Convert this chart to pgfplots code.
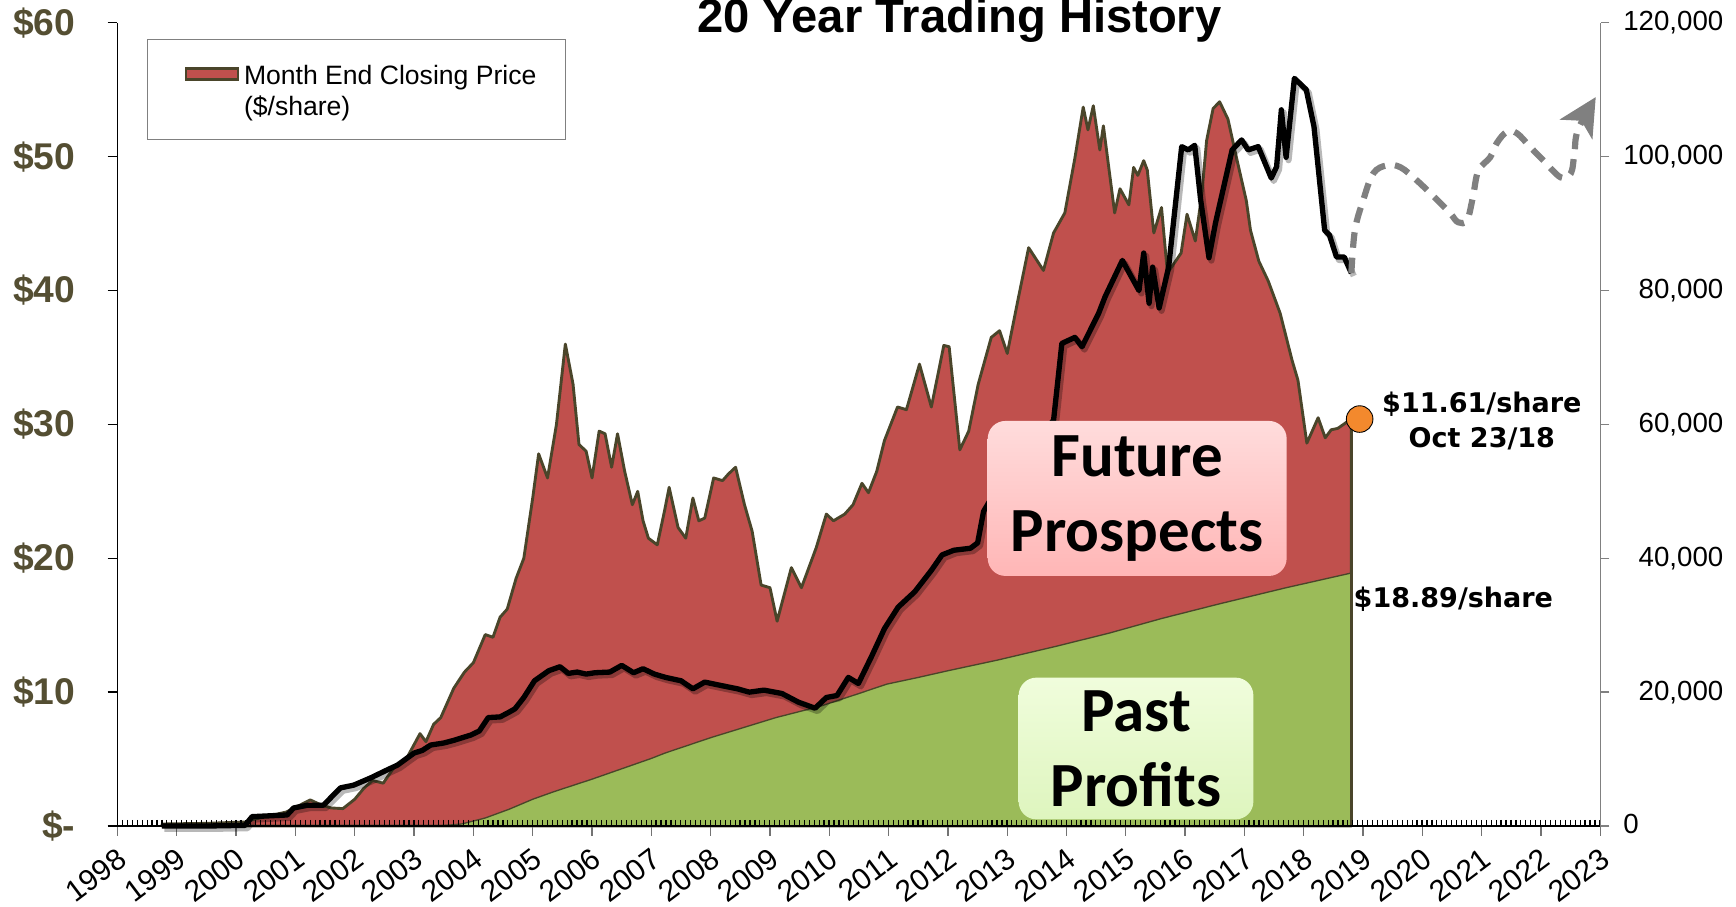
\documentclass[border=0pt]{standalone}
\usepackage{fontspec}
\setmainfont{Liberation Sans}
\newfontfamily\calibri{Carlito}
\newfontfamily\verd{DejaVu Sans}
\usepackage{pgfplots}
\pgfplotsset{compat=1.18}
\usetikzlibrary{arrows.meta}

\definecolor{pricered}{RGB}{192,80,77}
\definecolor{olive}{RGB}{74,69,42}
\definecolor{profitgreen}{RGB}{155,187,89}
\definecolor{ylab}{RGB}{84,78,50}
\definecolor{dotorange}{RGB}{243,137,45}

\begin{document}
\begin{tikzpicture}
\begin{axis}[
  name=main,
  scale only axis, width=669.75pt, height=362.75pt,
  xmin=1998, xmax=2023, ymin=0, ymax=60,
  axis x line*=bottom, axis y line*=left,
  axis line style={black, line width=0.6pt},
  axis on top,
  clip=false,
  xtick={1998,1999,...,2023},
  xticklabels={1998,1999,2000,2001,2002,2003,2004,2005,2006,2007,2008,2009,2010,2011,2012,2013,2014,2015,2016,2017,2018,2019,2020,2021,2022,2023},
  minor xtick={1998.0833333,1998.1666667,...,2022.99},
  ytick={0,10,...,60},
  yticklabels={\$-,\$10,\$20,\$30,\$40,\$50,\$60},
  tick align=outside,
  major tick length=4.5pt,
  minor tick length=-2.8pt,
  major x tick style={black!55, line width=0.6pt},
  minor x tick style={black, line width=0.55pt},
  ytick style={black, line width=0.6pt},
  xticklabel style={font=\fontsize{13.5}{16}\selectfont, anchor=north east, rotate=37},
  yticklabel style={font=\fontsize{16.8}{20}\selectfont\bfseries, text=ylab, xshift=-11pt},
]
% month end closing price ($/share)
\addplot[fill=pricered, draw=olive, line width=1.3pt, line join=round]
coordinates {(1998.75,0.15)(1999.5,0.2)(2000.15,0.3)(2000.3,0.5)(2000.6,0.8)(2000.85,1.05)(2001.05,1.5)(2001.25,1.95)(2001.42,1.6)(2001.6,1.35)(2001.8,1.3)(2002.0,2.0)(2002.15,2.8)(2002.3,3.4)(2002.48,3.2)(2002.65,4.3)(2002.88,5.1)(2003.1,6.9)(2003.2,6.3)(2003.33,7.6)(2003.45,8.1)(2003.67,10.3)(2003.85,11.5)(2004.0,12.2)(2004.2,14.3)(2004.33,14.1)(2004.45,15.6)(2004.57,16.2)(2004.72,18.5)(2004.85,20.0)(2005.0,24.5)(2005.1,27.8)(2005.25,26.0)(2005.4,30.0)(2005.55,36.0)(2005.68,33.0)(2005.78,28.5)(2005.9,28.0)(2006.0,26.0)(2006.12,29.5)(2006.22,29.3)(2006.33,26.8)(2006.43,29.3)(2006.55,26.5)(2006.68,24.0)(2006.77,25.0)(2006.86,22.8)(2006.95,21.5)(2007.1,21.0)(2007.22,23.5)(2007.3,25.3)(2007.45,22.3)(2007.58,21.5)(2007.7,24.5)(2007.8,22.8)(2007.9,23.0)(2008.05,26.0)(2008.2,25.8)(2008.3,26.3)(2008.42,26.8)(2008.5,25.3)(2008.57,24.0)(2008.7,22.0)(2008.85,18.0)(2009.0,17.8)(2009.12,15.3)(2009.36,19.3)(2009.53,17.8)(2009.78,20.8)(2009.95,23.3)(2010.07,22.8)(2010.26,23.3)(2010.4,24.0)(2010.55,25.6)(2010.66,24.9)(2010.8,26.5)(2010.93,28.8)(2011.15,31.3)(2011.3,31.1)(2011.52,34.5)(2011.72,31.3)(2011.93,35.9)(2012.02,35.8)(2012.2,28.1)(2012.35,29.5)(2012.51,33.0)(2012.73,36.5)(2012.87,37.0)(2013.0,35.3)(2013.18,39.3)(2013.36,43.2)(2013.61,41.5)(2013.78,44.3)(2013.97,45.8)(2014.14,49.9)(2014.28,53.7)(2014.36,52.0)(2014.45,53.8)(2014.56,50.5)(2014.62,52.3)(2014.81,45.8)(2014.9,47.6)(2015.05,46.4)(2015.13,49.2)(2015.2,48.6)(2015.3,49.7)(2015.36,49.0)(2015.47,44.3)(2015.6,46.2)(2015.7,41.3)(2015.93,42.8)(2016.03,45.7)(2016.17,43.7)(2016.28,47.2)(2016.36,51.2)(2016.47,53.6)(2016.58,54.1)(2016.72,52.8)(2016.86,50.0)(2017.03,46.7)(2017.1,44.5)(2017.24,42.2)(2017.4,40.7)(2017.6,38.3)(2017.8,34.8)(2017.9,33.3)(2018.05,28.6)(2018.24,30.5)(2018.36,29.0)(2018.46,29.6)(2018.57,29.7)(2018.7,30.1)(2018.8,30.5)} \closedcycle;
% past profits, cumulative ($/share)
\addplot[fill=profitgreen, draw=olive, line width=0.6pt]
coordinates {(2003.4,0)(2003.8,0.15)(2004.2,0.6)(2004.6,1.25)(2005.0,2.0)(2005.36,2.57)(2006.0,3.5)(2007.0,5.05)(2007.23,5.45)(2008.0,6.6)(2009.1,8.1)(2009.85,8.95)(2010.5,9.9)(2010.97,10.6)(2011.5,11.1)(2012.0,11.6)(2012.84,12.4)(2013.8,13.4)(2014.71,14.4)(2015.6,15.5)(2016.58,16.6)(2017.7,17.8)(2018.79,18.89)} \closedcycle;
\addplot[only marks, mark=*, mark size=6pt, mark options={fill=dotorange, draw=none}]
coordinates {(2018.94,30.4)};
% legend
\draw[black!50, line width=0.6pt, fill=white] (rel axis cs:0.02008,0.9788) rectangle (rel axis cs:0.3023,0.8547);
\draw[fill=pricered, draw=olive, line width=1.3pt] (rel axis cs:0.04622,0.9429) rectangle (rel axis cs:0.08131,0.9291);
\node[anchor=base west, inner sep=0pt, font=\fontsize{12}{14}\selectfont] at (rel axis cs:0.08503,0.9237)
  {\begin{tabular}[t]{@{}l@{}}Month End Closing Price\\(\$/share)\end{tabular}};
\node[anchor=base, font=\fontsize{21.3}{25}\selectfont\bfseries] at (rel axis cs:0.5677,1) [yshift=-4.2pt] {20 Year Trading History};
\end{axis}

\begin{axis}[
  scale only axis, width=669.75pt, height=362.75pt,
  xmin=1998, xmax=2023, ymin=0, ymax=120000,
  axis x line=none, axis y line*=right,
  axis line style={black!50, line width=0.8pt},
  clip=false,
  ytick={0,20000,...,120000},
  yticklabels={0\phantom{00,000},{20,000},{40,000},{60,000},{80,000},{100,000},{120,000}},
  tick align=outside, major tick length=4pt,
  ytick style={black!50, line width=0.6pt},
  yticklabel style={font=\fontsize{12.5}{15}\selectfont, anchor=east, xshift=55pt},
]
\addplot[black, line width=2.4pt, line join=round,
  preaction={draw=black, draw opacity=0.28, line width=2.8pt, transform canvas={shift={(1.1pt,-1.3pt)}}}]
coordinates {(1998.75,0)(1999.5,0)(2000.15,100)(2000.27,1400)(2000.86,1650)(2000.97,2700)(2001.2,3100)(2001.47,3100)(2001.76,5700)(2001.98,6100)(2002.27,7200)(2002.55,8400)(2002.72,9100)(2003.0,10900)(2003.14,11300)(2003.28,12100)(2003.5,12400)(2003.67,12800)(2003.96,13600)(2004.1,14200)(2004.25,16200)(2004.45,16300)(2004.6,17000)(2004.7,17500)(2004.85,19200)(2005.03,21700)(2005.27,23200)(2005.46,23800)(2005.6,22800)(2005.75,23000)(2005.9,22700)(2006.05,22900)(2006.3,23000)(2006.5,24000)(2006.7,22900)(2006.86,23500)(2007.05,22700)(2007.24,22200)(2007.5,21700)(2007.7,20500)(2007.9,21500)(2008.17,21000)(2008.45,20500)(2008.65,20000)(2008.9,20300)(2009.2,19800)(2009.48,18500)(2009.76,17600)(2009.95,19200)(2010.13,19500)(2010.32,22200)(2010.49,21300)(2010.71,25300)(2010.93,29500)(2011.16,32700)(2011.44,35000)(2011.72,38200)(2011.9,40500)(2012.1,41200)(2012.38,41500)(2012.5,42300)(2012.6,47000)(2013.0,53000)(2013.4,57000)(2013.78,60600)(2013.92,72100)(2014.14,73000)(2014.26,71600)(2014.54,76600)(2014.65,79100)(2014.94,84500)(2015.22,80000)(2015.3,85600)(2015.39,78100)(2015.45,83500)(2015.56,77400)(2015.72,83500)(2015.83,92500)(2015.94,101500)(2016.05,101000)(2016.16,101700)(2016.26,93500)(2016.4,84900)(2016.51,90100)(2016.79,101000)(2016.95,102500)(2017.06,101000)(2017.23,101500)(2017.45,96800)(2017.54,98500)(2017.62,107000)(2017.7,99900)(2017.84,111700)(2018.04,110000)(2018.17,104500)(2018.35,89000)(2018.43,88300)(2018.55,85000)(2018.68,85000)(2018.8,82600)};
% outlook
\addplot[black!50, line width=2.8pt, smooth, tension=0.6, dash pattern=on 7pt off 4.5pt,
  -{Stealth[length=17pt,width=17pt,inset=4.5pt]}]
coordinates {(2018.8,82600)(2018.86,89000)(2019.0,93500)(2019.17,97500)(2019.4,98700)(2019.63,98400)(2019.91,96400)(2020.25,93500)(2020.47,91500)(2020.6,90200)(2020.75,90500)(2020.85,94000)(2020.94,97900)(2021.14,99900)(2021.25,102000)(2021.42,103700)(2021.59,103500)(2021.82,101400)(2022.04,99400)(2022.33,96900)(2022.5,97500)(2022.56,100500)(2022.62,104000)(2022.92,108900)};
\node[rounded corners=8pt, top color={rgb,255:red,255;green,220;blue,220}, bottom color={rgb,255:red,255;green,182;blue,182},
  minimum width=135pt, minimum height=70pt, align=center, inner sep=0pt,
  font=\calibri\bfseries\fontsize{28.4}{34}\selectfont] at (axis cs:2015.19,48940) {Future\\Prospects};
\node[rounded corners=8pt, top color={rgb,255:red,240;green,253;blue,220}, bottom color={rgb,255:red,222;green,245;blue,190},
  minimum width=106pt, minimum height=64pt, align=center, inner sep=0pt,
  font=\calibri\bfseries\fontsize{28.4}{34}\selectfont] at (axis cs:2015.17,11580) {Past\\Profits};
\node[align=center, font=\verd\bfseries\fontsize{12.2}{15.5}\selectfont] at (axis cs:2021.0,60520) {\$11.61/share\\Oct 23/18};
\node[font=\verd\bfseries\fontsize{12.2}{15.5}\selectfont] at (axis cs:2020.52,33900) {\$18.89/share};
\end{axis}
\pgfresetboundingbox
\path[use as bounding box] ([xshift=-53.05pt,yshift=-36.45pt]main.south west) rectangle ([xshift=61.2pt,yshift=10.3pt]main.north east);
\end{tikzpicture}
\end{document}
